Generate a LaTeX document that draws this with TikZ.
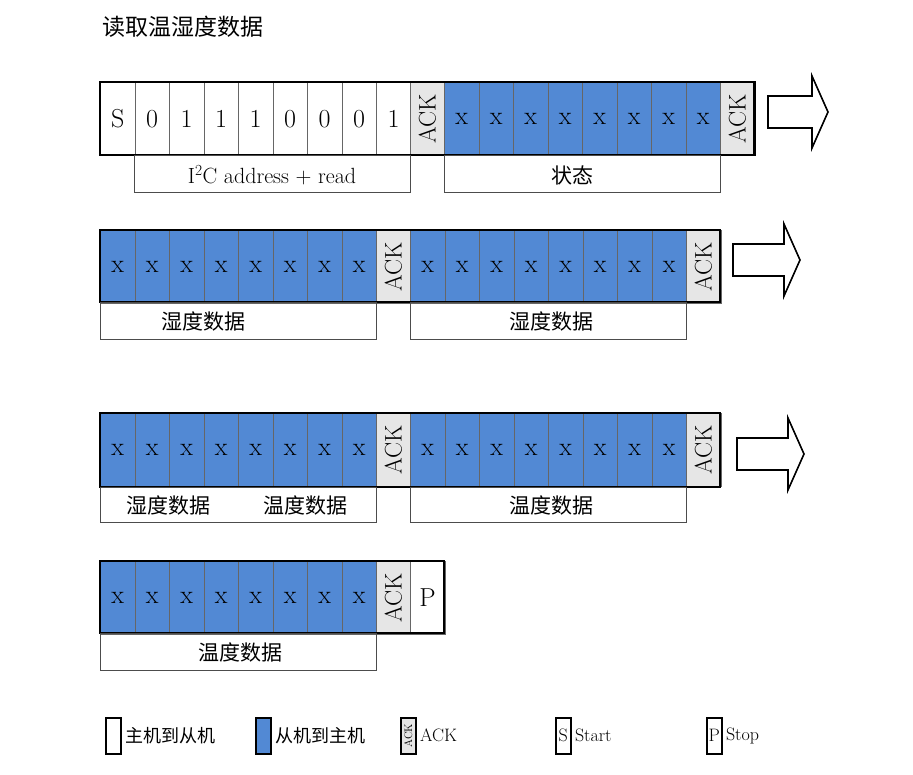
\documentclass[tikz,border=0pt]{standalone}
\usepackage{fontspec}
\newfontfamily\cjk{Noto Sans CJK SC}
\definecolor{slaveblue}{HTML}{5289D4}
\definecolor{ackgray}{HTML}{E6E6E6}
\tikzset{
  cell/.style={draw=black!60, line width=0.8pt, minimum width=34.5pt, minimum height=73pt, anchor=north west, inner sep=0pt, font=\fontsize{26}{26}\selectfont},
  mcell/.style={cell, fill=white},
  scell/.style={cell, fill=slaveblue},
  acell/.style={cell, fill=ackgray},
  ack/.style={rotate=90, font=\fontsize{24}{24}\selectfont},
  frame/.style={line width=2.5pt},
  lbox/.style={draw=black!70, line width=0.8pt},
  lbl/.style={font=\cjk\fontsize{21}{21}\selectfont},
  bigarrow/.style={draw, line width=1.6pt, fill=white},
  leg/.style={draw, line width=1.5pt, minimum width=15pt, minimum height=36pt, inner sep=0pt, anchor=north west},
  legtext/.style={anchor=west, font=\cjk\fontsize{18}{18}\selectfont},
}
\newcommand{\xrun}[3]{% x0, y0, count
  \foreach \k in {1,...,#3} {
    \node[scell] at ({#1+(\k-1)*34.5}, #2) {x};
  }}
\newcommand{\ackcell}[2]{%
  \node[acell] (a#1#2) at (#1,#2) {};
  \node[ack] at ($(#1,#2)+(17.25,36.5)$) {ACK};}
\newcommand{\fatarrow}[3]{% x, y top, length
  \draw[bigarrow] (#1,#2+20) -- (#1+#3-16,#2+20) -- (#1+#3-16,#2) -- (#1+#3,#2+36) -- (#1+#3-16,#2+72) -- (#1+#3-16,#2+52) -- (#1,#2+52) -- cycle;}
\usetikzlibrary{calc}
\begin{document}
\begin{tikzpicture}[x=1pt,y=-1pt]
\useasboundingbox (0,0) rectangle (913,775);
\fill[white] (0,0) rectangle (913,775);
\node[anchor=west, font=\cjk\fontsize{23}{23}\selectfont] (title) at (99,27) {读取温湿度数据};

% row 1: address + status
\node[mcell] (s) at (100,82) {S};
\foreach \b [count=\i] in {0,1,1,1,0,0,0,1} {
  \node[mcell] at ({100+\i*34.5},82) {\b};
}
\ackcell{410}{82}
\xrun{444}{82}{8}
\ackcell{720}{82}
\draw[frame] (100,82) rectangle (754.5,155);
\draw[lbox] (134.5,155) rectangle (410,192);
\node[font=\fontsize{22}{22}\selectfont] at (272,175) {I\textsuperscript{2}C address + read};
\draw[lbox] (444,155) rectangle (720,192);
\node[lbl] at (572,175) {状态};
\fatarrow{768}{76}{60}

% row 2: humidity
\xrun{100}{230}{8}
\ackcell{376}{230}
\xrun{410}{230}{8}
\ackcell{686}{230}
\draw[frame] (100,230) rectangle (720,302);
\draw[lbox] (100,302) rectangle (376,339);
\node[lbl] at (203,322) {湿度数据};
\draw[lbox] (410,302) rectangle (686,339);
\node[lbl] at (551,322) {湿度数据};
\fatarrow{733}{224}{67}

% row 3: humidity / temperature
\xrun{100}{413}{8}
\ackcell{376}{413}
\xrun{410}{413}{8}
\ackcell{686}{413}
\draw[frame] (100,413) rectangle (720,487);
\draw[lbox] (100,487) rectangle (376,522);
\node[lbl] at (168,505) {湿度数据};
\node[lbl] at (305,505) {温度数据};
\draw[lbox] (410,487) rectangle (686,522);
\node[lbl] at (551,505) {温度数据};
\fatarrow{737}{418}{67}

% row 4: temperature + stop
\xrun{100}{561}{8}
\ackcell{376}{561}
\node[mcell] (p) at (410,561) {P};
\draw[frame] (100,561) rectangle (444,633);
\draw[lbox] (100,633) rectangle (376,670);
\node[lbl] at (240,652) {温度数据};

% legend
\node[leg, fill=white] (l1) at (105,717) {};
\node[legtext] at (l1.east) {主机到从机};
\node[leg, fill=slaveblue] (l2) at (255,717) {};
\node[legtext] at (l2.east) {从机到主机};
\node[leg, fill=ackgray] (l3) at (400,717) {};
\node[rotate=90, font=\fontsize{11}{11}\selectfont] at (l3.center) {ACK};
\node[legtext, font=\fontsize{18}{18}\selectfont] at (l3.east) {ACK};
\node[leg, fill=white, font=\fontsize{18}{18}\selectfont] (l4) at (555,717) {S};
\node[legtext, font=\fontsize{18}{18}\selectfont] at (l4.east) {Start};
\node[leg, fill=white, font=\fontsize{18}{18}\selectfont] (l5) at (706,717) {P};
\node[legtext, font=\fontsize{18}{18}\selectfont] at (l5.east) {Stop};
\end{tikzpicture}
\end{document}
